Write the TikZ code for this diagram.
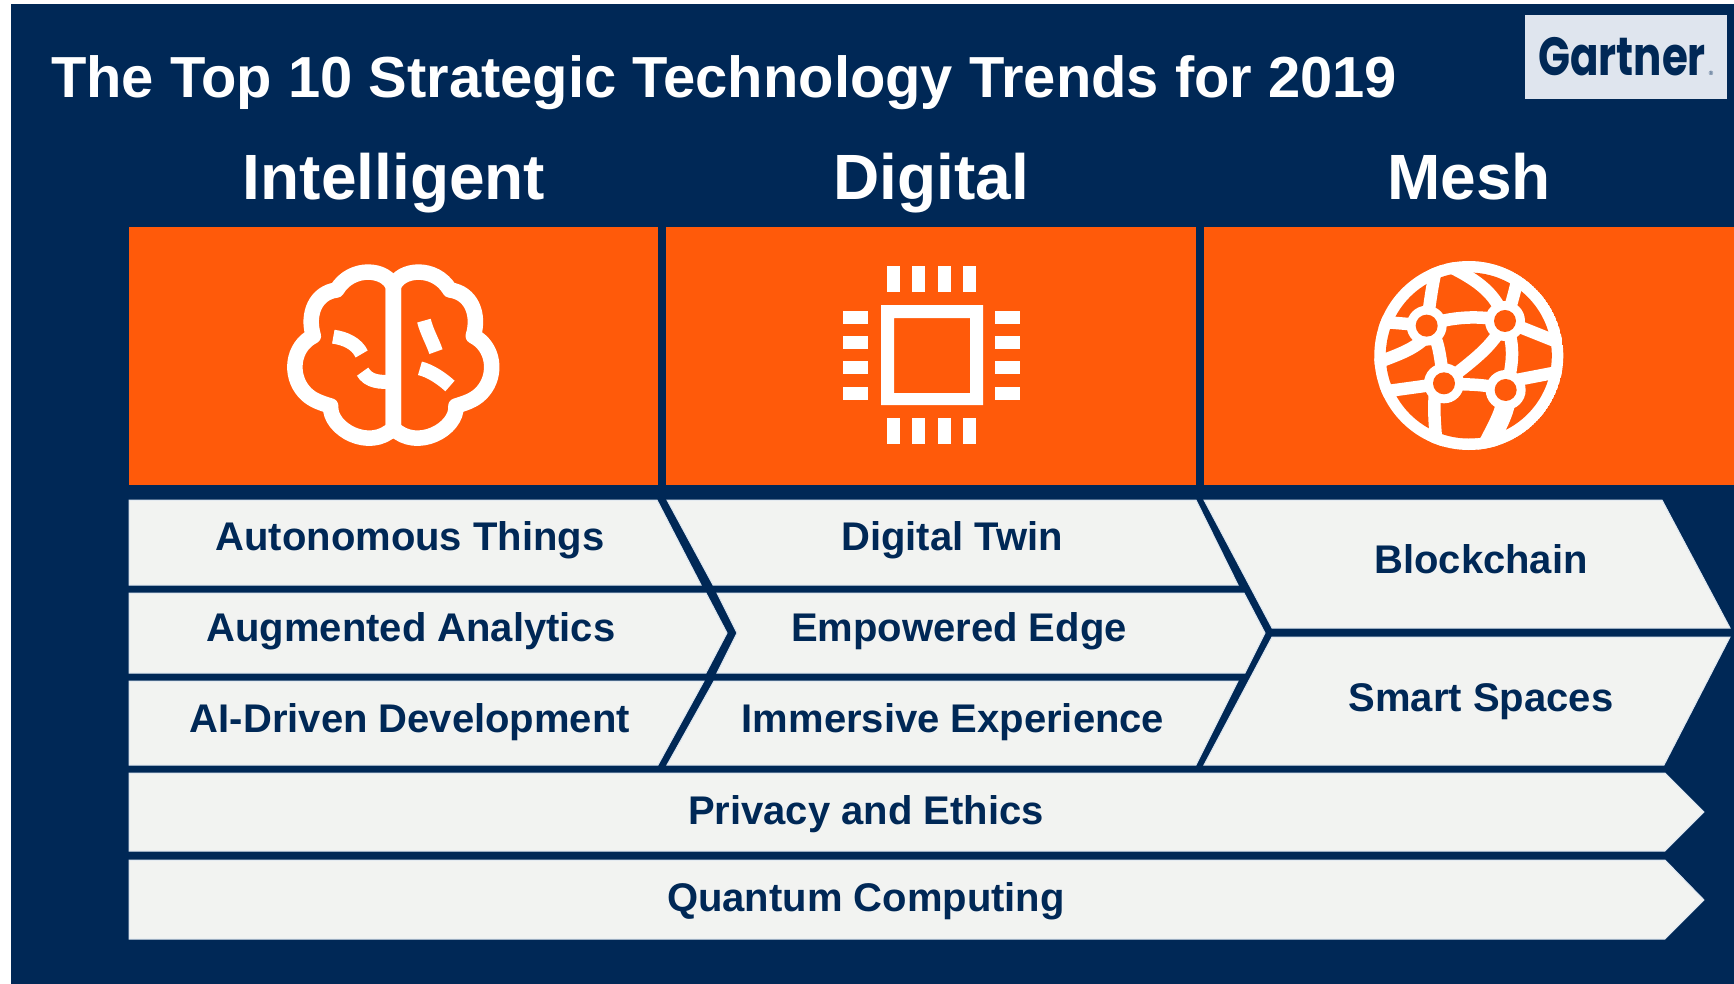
\documentclass[tikz,border=0pt]{standalone}
\usepackage{fontspec}
\setmainfont{Liberation Sans}
\newfontfamily\logofont{Poppins}
\definecolor{navy}{HTML}{002856}
\definecolor{brandorange}{HTML}{FF5A0A}
\definecolor{panel}{HTML}{F2F3F1}
\definecolor{paneledge}{HTML}{DDE6F0}
\definecolor{logobg}{HTML}{DFE5EE}
\tikzset{
  panelshape/.style={fill=panel,draw=paneledge,line width=1pt},
  orangebox/.style={fill=brandorange},
  rowtext/.style={inner sep=0pt,anchor=base,text=navy,font=\fontsize{40}{40}\bfseries\selectfont},
  headtext/.style={inner sep=0pt,anchor=base,text=white,font=\fontsize{64}{64}\bfseries\selectfont},
  titletext/.style={inner sep=0pt,anchor=base west,text=white,font=\fontsize{57.9}{57.9}\bfseries\selectfont},
  iconline/.style={draw=white,line width=15.5pt,line join=round,fill=none},
  iconmark/.style={draw=white,line width=14pt,line cap=butt},
  globeline/.style={draw=white,line width=12.5pt,line cap=round},
}
\begin{document}
\begin{tikzpicture}[x=1pt,y=-1pt]
\useasboundingbox (0,0) rectangle (1734,984);
\fill[white] (0,0) rectangle (1734,984);
\fill[navy] (11,4) rectangle (1734,984);
% logo
\fill[logobg] (1525,15) rectangle (1727,99);
\node[inner sep=0pt,anchor=base,xscale=.75,yscale=.96,text=navy,font=\logofont\fontsize{56}{56}\selectfont\bfseries] (logo) at (1622,76) {Gartner};
\node[inner sep=0pt,text=navy,font=\fontsize{6}{6}\selectfont] (logomark) at (1711,73) {®};
% title and headings
\node[titletext] (title) at (51,98) {The Top 10 Strategic Technology Trends for 2019};
\node[headtext] (h1) at (394,200) {Intelligent};
\node[headtext] (h2) at (931,200) {Digital};
\node[headtext] (h3) at (1469,200) {Mesh};
% orange boxes
\fill[orangebox] (129,227) rectangle (658,485);
\fill[orangebox] (666,227) rectangle (1196,485);
\fill[orangebox] (1204,227) rectangle (1734,485);
% panels: Intelligent
\path[panelshape] (129,500) -- (657,500) -- (701,585) -- (129,585) -- cycle;
\path[panelshape] (129,593) -- (706,593) -- (727,633) -- (706,673) -- (129,673) -- cycle;
\path[panelshape] (129,681) -- (704,681) -- (658,765) -- (129,765) -- cycle;
% panels: Digital
\path[panelshape] (667,500) -- (1196,500) -- (1238,585) -- (713,585) -- cycle;
\path[panelshape] (717,593) -- (1244,593) -- (1265,633) -- (1245,673) -- (717,673) -- (737,633) -- cycle;
\path[panelshape] (714,681) -- (1238,681) -- (1196,765) -- (667,765) -- cycle;
% panels: Mesh
\path[panelshape] (1204,500) -- (1662,500) -- (1730,628) -- (1272,628) -- cycle;
\path[panelshape] (1272,637) -- (1730,637) -- (1664,765) -- (1204,765) -- cycle;
% long panels
\path[panelshape] (129,773) -- (1665,773) -- (1704,812) -- (1665,851) -- (129,851) -- cycle;
\path[panelshape] (129,860) -- (1665,860) -- (1704,900) -- (1665,939) -- (129,939) -- cycle;
% panel texts
\node[rowtext] (t1) at (410,550.5) {Autonomous Things};
\node[rowtext] (t2) at (411,641.5) {Augmented Analytics};
\node[rowtext] (t3) at (410,732.5) {AI-Driven Development};
\node[rowtext] (t4) at (952,550.5) {Digital Twin};
\node[rowtext] (t5) at (959,641.5) {Empowered Edge};
\node[rowtext] (t6) at (953,732.5) {Immersive Experience};
\node[rowtext] (t7) at (1481,573.5) {Blockchain};
\node[rowtext] (t8) at (1481,711) {Smart Spaces};
\node[rowtext] (t9) at (866,824.5) {Privacy and Ethics};
\node[rowtext] (t10) at (866,911.5) {Quantum Computing};
% brain icon
\begin{scope}[shift={(393.3,230)},x=.3333pt,y=-.3333pt]
  \foreach \m in {1,-1}{
    \begin{scope}[xscale=\m]
      \draw[iconline] (0,595) -- (0,170) .. controls (-20,115) and (-125,105) .. (-170,180)
        .. controls (-232,188) and (-260,250) .. (-240,318)
        .. controls (-303,350) and (-312,435) .. (-268,485)
        .. controls (-250,505) and (-232,515) .. (-188,528)
        .. controls (-193,598) and (-70,665) .. (0,595);
    \end{scope}
  }
  \draw[iconmark] (-180,320) .. controls (-145,325) and (-110,340) .. (-95,372);
  \draw[iconmark] (-92,425) .. controls (-75,455) and (-40,458) .. (0,455);
  \draw[iconmark] (92,272) .. controls (100,305) and (118,335) .. (128,365);
  \draw[iconmark] (80,415) .. controls (110,422) and (145,445) .. (170,468);
\end{scope}
% chip icon
\fill[white,even odd rule] (881,305) rectangle (983,405) (894,318) rectangle (970,393);
\foreach \a in {887,912,938,963}{
  \fill[white] (\a,266) rectangle ++(13,26);
  \fill[white] (\a,418) rectangle ++(13,26);
}
\foreach \b in {311,336,361,387}{
  \fill[white] (843,\b) rectangle ++(25,13);
  \fill[white] (995,\b) rectangle ++(25,13);
}
% globe icon
\begin{scope}
  \clip (1468.8,355.5) circle[radius=94.5pt];
  \fill[white] (1468.8,355.5) circle[radius=94.5pt];
  \fill[brandorange] (1468.8,355.5) circle[radius=83pt];
  \begin{scope}[shift={(1340,230)},x=.3333pt,y=-.3333pt]
    \draw[globeline] (330,110) .. controls (410,150) and (470,190) .. (495,273);
    \draw[globeline] (290,110) .. controls (275,170) and (270,220) .. (260,287);
    \draw[globeline] (260,287) .. controls (330,260) and (420,255) .. (495,273);
    \draw[globeline] (260,320) .. controls (220,360) and (170,375) .. (120,395);
    \draw[globeline] (240,285) -- (120,275);
    \draw[globeline] (260,287) .. controls (300,320) and (300,390) .. (312,460);
    \draw[globeline] (495,273) .. controls (460,350) and (400,390) .. (312,460);
    \draw[globeline] (495,273) .. controls (510,240) and (520,200) .. (530,160);
    \draw[globeline] (495,273) -- (650,335);
    \draw[globeline] (495,273) .. controls (530,350) and (515,420) .. (497,480);
    \draw[globeline] (312,460) .. controls (380,465) and (430,460) .. (497,480);
    \draw[globeline] (312,460) -- (130,485);
    \draw[globeline] (285,490) .. controls (280,540) and (285,590) .. (290,650);
    \draw[globeline] (530,450) -- (660,425);
    \draw[globeline,line width=19pt] (500,500) .. controls (495,550) and (470,590) .. (440,650);
    \foreach \p in {(260,287),(495,273),(312,460),(497,480)}{
      \fill[white] \p circle[radius=60];
    }
    \fill[brandorange] (260,287) circle[radius=33];
    \fill[brandorange] (495,273) circle[radius=33];
    \fill[brandorange] (312,460) circle[radius=33];
    \fill[brandorange] (497,480) circle[radius=33];
  \end{scope}
\end{scope}
\end{tikzpicture}
\end{document}
